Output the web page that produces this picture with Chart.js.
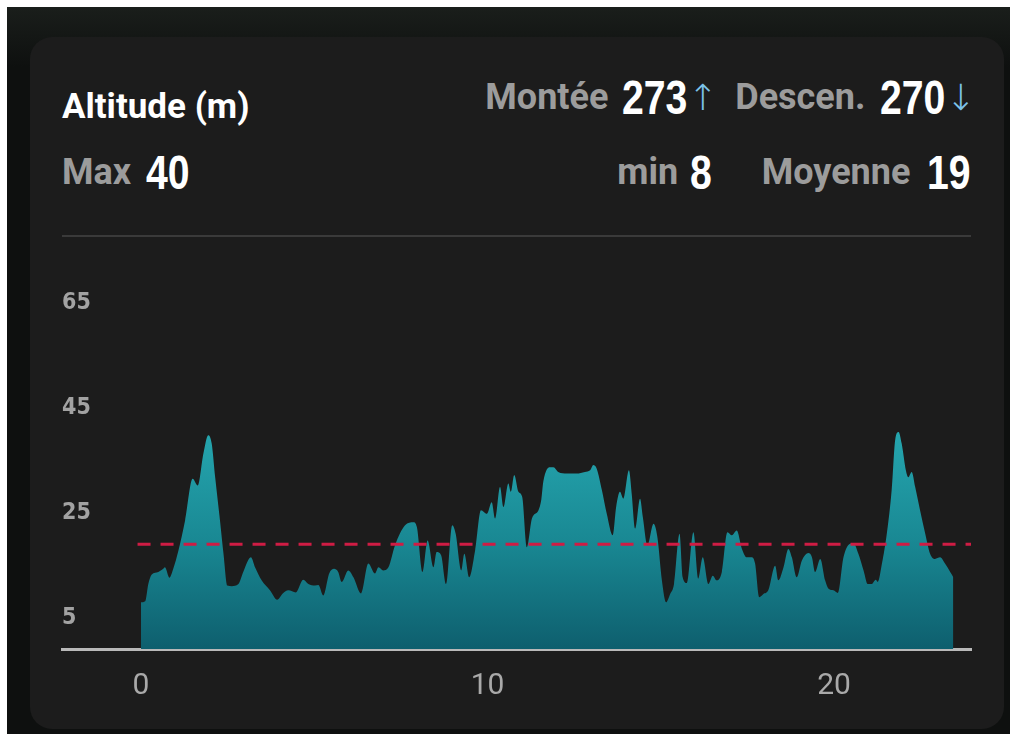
<!DOCTYPE html>
<html>
<head>
<meta charset="utf-8">
<script src="https://cdn.jsdelivr.net/npm/chart.js@4"></script>
<style>
  html, body { margin: 0; padding: 0; background: #fff; }
  body { width: 1013px; height: 734px; position: relative; overflow: hidden; }
  .bg { position: absolute; left: 7px; top: 7px; width: 1003px; height: 727px;
        background: linear-gradient(#1a1e1b, #0e100f 60px); }
  .card { position: absolute; left: 30px; top: 37px; width: 974px; height: 692px;
          border-radius: 22px; background: #1c1c1c; }
  .row { position: absolute; display: flex; align-items: center; height: 50px; white-space: nowrap; }
  .lbl { font-family: Roboto, "Noto Sans", sans-serif; font-weight: 700; font-size: 36px; color: #9c9c9c; }
  .num { display: inline-block; font-family: "Liberation Sans", Arial, sans-serif; font-weight: 700;
         font-size: 49px; color: #fff; transform: scaleX(0.8); transform-origin: left center; }
  .arr { font-family: "DejaVu Sans", sans-serif; font-size: 36px; font-weight: 300; color: #7cc3ea; margin-left: 0; }
  .title { left: 32px; top: 44px; font-family: Roboto, "Noto Sans", sans-serif; font-weight: 700;
           font-size: 35px; color: #fff; }
  .sep { position: absolute; left: 32px; top: 198px; width: 909px; height: 2px; background: #3a3a3a; }
  #wrap { position: absolute; left: 30px; top: 250px; width: 974px; height: 470px; }
</style>
</head>
<body>
<div class="bg"></div>
<div class="card">
  <div class="row title">Altitude (m)</div>
  <div class="row" style="right:286px; top:35px;">
    <span class="lbl">Montée</span><span class="num" style="margin-left:14px">273</span><span class="arr">↑</span>
  </div>
  <div class="row" style="right:28px; top:35px;">
    <span class="lbl">Descen.</span><span class="num" style="margin-left:15px">270</span><span class="arr">↓</span>
  </div>
  <div class="row" style="left:32px; top:110px;">
    <span class="lbl">Max</span><span class="num" style="margin-left:15px">40</span>
  </div>
  <div class="row" style="right:292px; top:110px;">
    <span class="lbl">min</span><span class="num" style="margin-left:12px">8</span>
  </div>
  <div class="row" style="right:33px; top:110px;">
    <span class="lbl">Moyenne</span><span class="num" style="margin-left:17px">19</span>
  </div>
  <div class="sep"></div>
</div>
<div id="wrap"><canvas id="altChart"></canvas></div>
<script>
// distance (km) and altitude (m)
const distKm = [
  0.00, 0.12, 0.21, 0.31, 0.50, 0.64, 0.69, 0.82, 0.93, 1.08,
  1.27, 1.49, 1.64, 1.80, 1.94, 2.04, 2.14, 2.28, 2.38, 2.49,
  2.62, 2.81, 2.95, 3.17, 3.29, 3.48, 3.72, 3.93, 4.09, 4.25,
  4.47, 4.68, 4.83, 5.02, 5.12, 5.26, 5.43, 5.57, 5.69, 5.79,
  5.98, 6.13, 6.35, 6.56, 6.75, 6.85, 6.99, 7.14, 7.33, 7.62,
  7.86, 7.96, 8.12, 8.27, 8.44, 8.53, 8.66, 8.80, 8.98, 9.08,
  9.24, 9.33, 9.47, 9.64, 9.81, 9.98, 10.12, 10.22, 10.36, 10.46,
  10.60, 10.67, 10.77, 10.89, 11.00, 11.13, 11.28, 11.47, 11.55, 11.61,
  11.80, 11.90, 12.04, 12.29, 12.57, 12.81, 12.96, 13.05, 13.15, 13.30,
  13.44, 13.61, 13.71, 13.82, 13.92, 14.08, 14.16, 14.26, 14.40, 14.48,
  14.61, 14.79, 14.90, 15.03, 15.15, 15.27, 15.38, 15.54, 15.63, 15.75,
  15.94, 16.08, 16.21, 16.37, 16.50, 16.61, 16.76, 16.92, 17.05, 17.19,
  17.34, 17.48, 17.62, 17.72, 17.84, 17.96, 18.10, 18.30, 18.39, 18.54,
  18.68, 18.78, 18.92, 19.07, 19.26, 19.36, 19.45, 19.60, 19.74, 19.84,
  19.98, 20.11, 20.27, 20.46, 20.56, 20.70, 20.85, 20.97, 21.09, 21.20,
  21.26, 21.38, 21.52, 21.66, 21.76, 21.86, 21.95, 22.07, 22.14, 22.24,
  22.34, 22.48, 22.63, 22.77, 22.91, 23.06, 23.20, 23.35, 23.44
];
const altM = [
  7.9, 8.1, 11.4, 13.2, 13.7, 14.3, 14.6, 12.6, 14.3, 17.8,
  23.5, 31.5, 30.2, 36.3, 39.8, 38.2, 31.8, 23.5, 17.2, 11.1,
  11.0, 11.4, 13.7, 16.5, 14.6, 12.1, 10.2, 8.4, 9.6, 10.2,
  9.8, 12.2, 11.4, 11.1, 11.2, 9.2, 13.4, 14.3, 13.7, 11.8,
  14.0, 12.7, 9.6, 15.3, 13.4, 14.6, 14.0, 14.6, 18.8, 22.6,
  23.2, 22.3, 13.7, 19.7, 14.6, 17.5, 16.9, 11.4, 22.6, 21.0,
  14.0, 17.2, 12.7, 17.8, 25.5, 24.8, 27.0, 23.9, 29.9, 26.1,
  30.6, 29.0, 32.2, 29.0, 28.0, 18.4, 23.9, 25.5, 27.5, 31.0,
  33.7, 33.7, 32.8, 32.5, 32.5, 32.8, 33.1, 34.1, 33.4, 29.3,
  24.8, 20.7, 26.1, 29.0, 27.7, 33.1, 28.6, 22.0, 27.7, 24.2,
  18.8, 22.9, 20.4, 12.1, 7.9, 9.5, 11.4, 21.0, 12.7, 11.6,
  21.3, 12.4, 16.5, 11.4, 13.0, 12.1, 13.7, 21.3, 20.7, 21.6,
  18.1, 16.5, 16.5, 15.3, 8.9, 9.5, 10.2, 14.9, 12.1, 14.6,
  18.1, 16.5, 12.7, 15.9, 17.3, 16.5, 13.7, 16.2, 12.1, 10.5,
  10.2, 9.7, 16.5, 19.1, 19.2, 17.2, 14.0, 11.4, 11.4, 12.2,
  11.8, 15.3, 21.0, 29.3, 38.8, 40.4, 38.2, 33.1, 31.8, 32.8,
  29.9, 25.5, 21.0, 17.2, 16.2, 16.5, 15.3, 13.7, 12.7
];
const avgAlt = 19;
const xTicks = [0, 10, 20];
const yTicks = [5, 25, 45, 65];

const xMin = -2.28, xMax = 23.95;

// narrow the condensed header numbers and give back the freed width
document.querySelectorAll('.num').forEach(el => {
    const w = el.getBoundingClientRect().width;
    el.style.marginRight = (-(w / 0.8) * 0.2) + 'px';
});

const profile = distKm.map((d, i) => ({ x: d, y: altM[i] }));
const avgLine = [{ x: -0.1, y: avgAlt }, { x: xMax, y: avgAlt }];

const areaFill = (context) => {
    const { chart } = context;
    const area = chart.chartArea;
    if (!area) return '#168391';
    const top = chart.scales.y.getPixelForValue(40);
    const g = chart.ctx.createLinearGradient(0, top, 0, area.bottom);
    g.addColorStop(0, '#25a5ae');
    g.addColorStop(0.5, '#198893');
    g.addColorStop(1, '#0e5f6e');
    return g;
};

const ctx = document.getElementById('altChart').getContext('2d');
new Chart(ctx, {
    type: 'line',
    data: {
        datasets: [{
            data: avgLine,
            borderColor: '#cf1c44',
            borderWidth: 3,
            borderDash: [13, 10],
            pointRadius: 0,
            fill: false,
            order: 0
        }, {
            data: profile,
            borderWidth: 0,
            borderColor: 'rgba(0,0,0,0)',
            backgroundColor: areaFill,
            pointRadius: 0,
            cubicInterpolationMode: 'monotone',
            fill: 'start',
            order: 1
        }]
    },
    options: {
        responsive: true,
        maintainAspectRatio: false,
        animation: false,
        layout: { padding: { left: 32, right: 33, top: 27, bottom: 0 } },
        scales: {
            x: {
                type: 'linear',
                min: xMin,
                max: xMax,
                z: 1,
                afterBuildTicks: (s) => { s.ticks = xTicks.map(v => ({ value: v })); },
                afterFit: (s) => { s.height = 71; },
                grid: { display: false, drawTicks: false },
                border: { display: true, color: '#b9b9b9', width: 3 },
                ticks: {
                    padding: 19,
                    color: '#a9a9a9',
                    font: { family: 'Roboto', size: 30, weight: '400' },
                    maxRotation: 0
                }
            },
            y: {
                min: -1,
                max: 70,
                afterBuildTicks: (s) => { s.ticks = yTicks.map(v => ({ value: v })); },
                afterFit: (s) => { s.width = 0; },
                grid: { display: false, drawTicks: false },
                border: { display: false },
                ticks: {
                    mirror: true,
                    padding: 0,
                    color: '#a2a2a2',
                    font: { family: '"DejaVu Sans Condensed", sans-serif', size: 23, weight: 'bold' }
                }
            }
        },
        plugins: {
            legend: { display: false },
            tooltip: { enabled: false }
        }
    }
});
</script>
</body>
</html>
